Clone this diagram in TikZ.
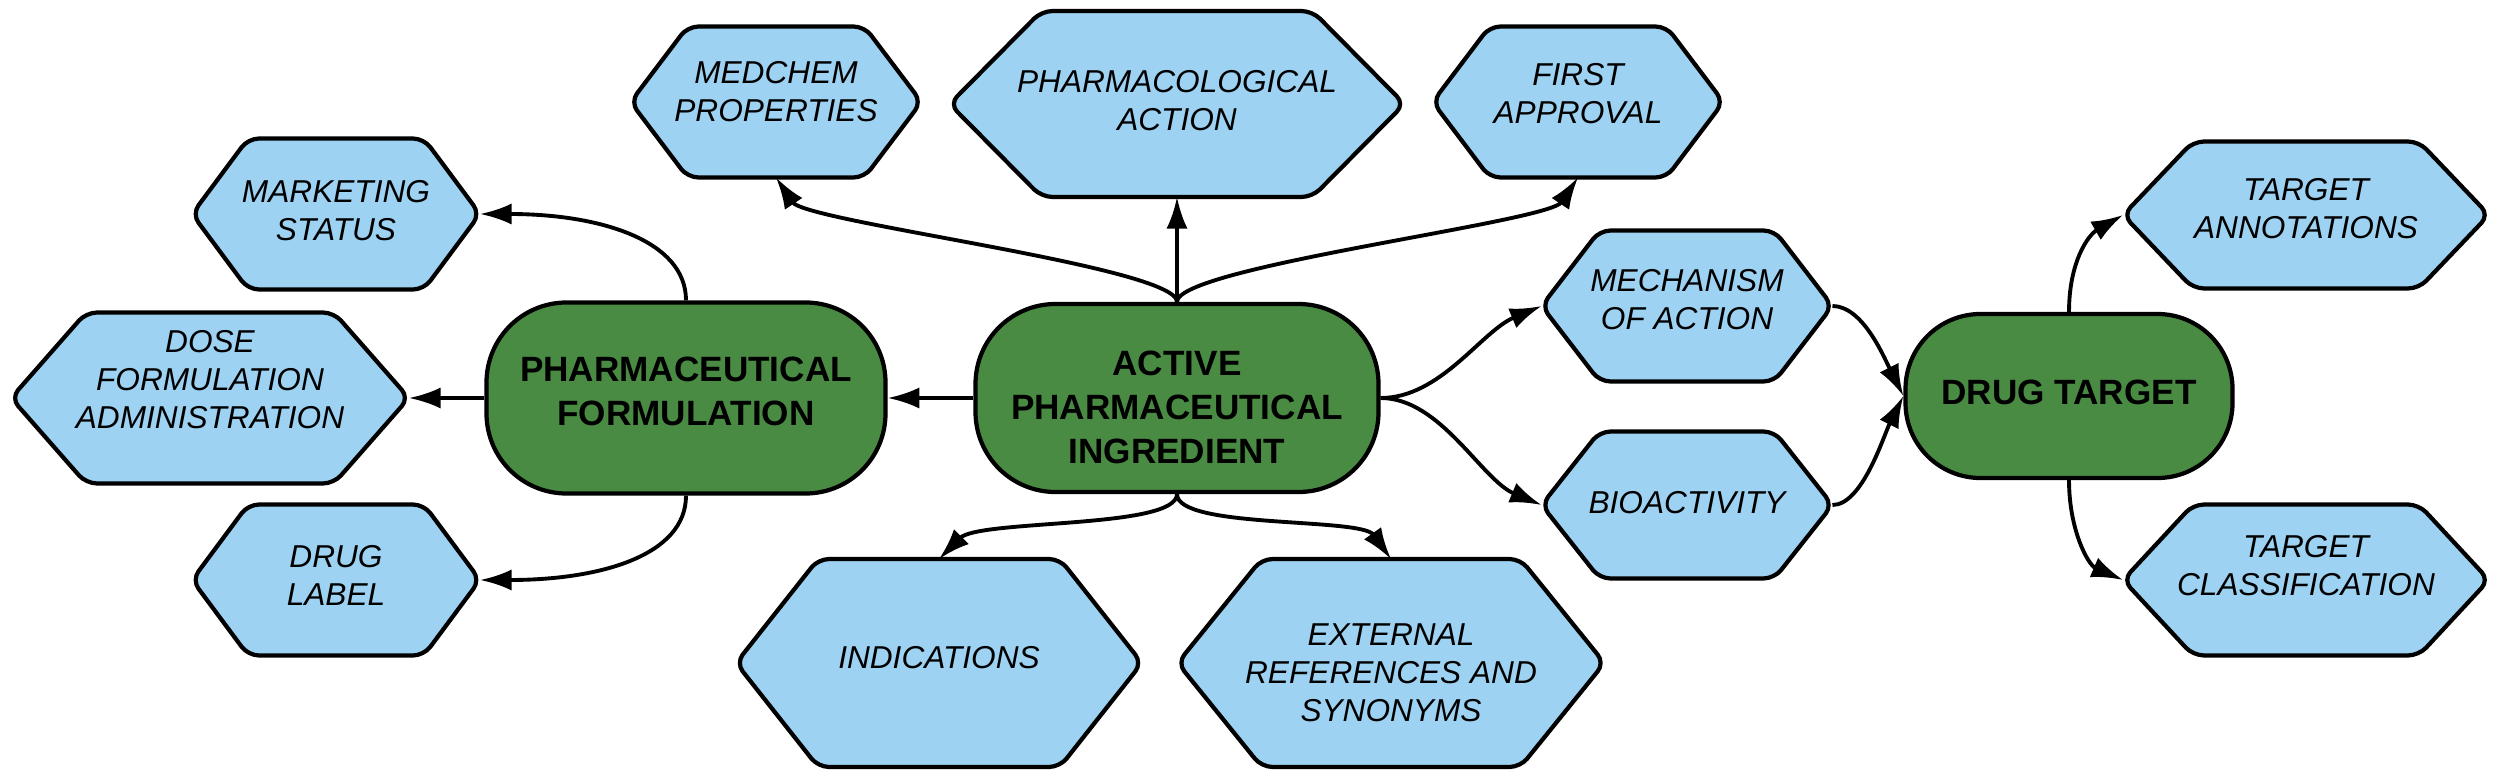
\documentclass[tikz,border=0pt]{standalone}
\usepackage{fontspec}
\setmainfont{Liberation Sans}
\usetikzlibrary{arrows.meta, backgrounds}

\definecolor{hexblue}{HTML}{9DD2F2}
\definecolor{hubgreen}{HTML}{4A8B43}

\begin{document}
\begin{tikzpicture}[>={Latex[length=9pt, width=6pt]}, line width=1.1pt,
	hub/.style={draw, fill=hubgreen, line width=1.2pt, rounded corners=0.8cm, inner sep=0pt},
	hubtext/.style={align=center, inner sep=0pt, font=\fontsize{10}{12.5}\selectfont\bfseries},
	leaf/.style={inner sep=0pt},
	leaftext/.style={align=center, inner sep=0pt, font=\fontsize{9}{10.8}\selectfont\itshape},
	hexa/.style={fill=hexblue, draw, line width=1.2pt, rounded corners=3pt}]
	
	% 1. Fix the canvas (same proportions as the figure)
	\useasboundingbox (0,0) rectangle (25,7.76);
	
	% 2. The three green hubs
	\node[hub, minimum width=4.03cm, minimum height=1.88cm,
	label={[hubtext, yshift=-0.09cm]center:{ACTIVE\\PHARMACEUTICAL\\INGREDIENT}}] (api) at (11.77,3.78) {};
	\node[hub, minimum width=3.99cm, minimum height=1.91cm,
	label={[hubtext, yshift=0.07cm]center:{PHARMACEUTICAL\\FORMULATION}}] (pf) at (6.86,3.78) {};
	\node[hub, minimum width=3.27cm, minimum height=1.64cm, rounded corners=0.75cm,
	label={[hubtext, yshift=0.04cm]center:{DRUG TARGET}}] (target) at (20.69,3.80) {};
	
	% 3. Leaves (text as label, the hexagons come later)
	\node[leaf, minimum width=2.87cm, minimum height=1.47cm,
	label={[leaftext, yshift=0.10cm]center:{MEDCHEM\\PROPERTIES}}] (medchem) at (7.76,6.74) {};
	\node[leaf, minimum width=4.51cm, minimum height=1.82cm,
	label={[leaftext, yshift=0.03cm]center:{PHARMACOLOGICAL\\ACTION}}] (pharmaco) at (11.77,6.72) {};
	\node[leaf, minimum width=2.87cm, minimum height=1.47cm,
	label={[leaftext, yshift=0.08cm]center:{FIRST\\APPROVAL}}] (approval) at (15.78,6.74) {};
	\node[leaf, minimum width=2.84cm, minimum height=1.47cm,
	label={[leaftext, yshift=0.03cm]center:{MARKETING\\STATUS}}] (marketing) at (3.36,5.62) {};
	\node[leaf, minimum width=3.94cm, minimum height=1.67cm,
	label={[leaftext, yshift=0.18cm]center:{DOSE\\FORMULATION\\ADMINISTRATION}}] (dose) at (2.10,3.78) {};
	\node[leaf, minimum width=2.84cm, minimum height=1.47cm,
	label={[leaftext, yshift=0.05cm]center:{DRUG\\LABEL}}] (label) at (3.36,1.96) {};
	\node[leaf, minimum width=2.87cm, minimum height=1.47cm,
	label={[leaftext, yshift=0.06cm]center:{MECHANISM\\OF ACTION}}] (mechanism) at (16.87,4.70) {};
	\node[leaf, minimum width=2.87cm, minimum height=1.43cm,
	label={[leaftext, yshift=0.02cm]center:{BIOACTIVITY}}] (bioact) at (16.87,2.71) {};
	\node[leaf, minimum width=3.62cm, minimum height=1.43cm,
	label={[leaftext, yshift=0.06cm]center:{TARGET\\ANNOTATIONS}}] (tannot) at (23.06,5.61) {};
	\node[leaf, minimum width=3.62cm, minimum height=1.47cm,
	label={[leaftext, yshift=0.14cm]center:{TARGET\\CLASSIFICATION}}] (tclass) at (23.06,1.96) {};
	\node[leaf, minimum width=4.02cm, minimum height=2.04cm,
	label={[leaftext, yshift=0.05cm]center:{INDICATIONS}}] (indic) at (9.39,1.13) {};
	\node[leaf, minimum width=4.23cm, minimum height=2.04cm,
	label={[leaftext, yshift=-0.10cm]center:{EXTERNAL\\REFERENCES AND\\SYNONYMS}}] (extref) at (13.91,1.13) {};
	
	% 4. Hexagon behind every leaf (name / slanted part)
	\begin{scope}[on background layer]
		\foreach \n/\s in {medchem/0.57cm, pharmaco/0.92cm, approval/0.57cm, marketing/0.56cm,
			dose/0.75cm, label/0.56cm, mechanism/0.58cm, bioact/0.58cm, tannot/0.70cm,
			tclass/0.70cm, indic/0.82cm, extref/0.84cm}
		{\draw[hexa] (\n.west) -- ([xshift=\s]\n.north west) -- ([xshift=-\s]\n.north east)
			-- (\n.east) -- ([xshift=-\s]\n.south east) -- ([xshift=\s]\n.south west) -- cycle;}
	\end{scope}
	
	% 5. Connectors out of the active ingredient
	\draw[->] (api.north) .. controls +(0,0.35) and +(0.3,-0.45) .. (medchem.south);
	\draw[->] (api.north) -- (pharmaco.south);
	\draw[->] (api.north) .. controls +(0,0.35) and +(-0.3,-0.45) .. (approval.south);
	\draw[->] (api.west) -- (pf.east);
	\draw[->] (api.south) .. controls +(0,-0.35) and +(0.4,0.4) .. (indic.north);
	\draw[->] (api.south) .. controls +(0,-0.35) and +(-0.3,0.42) .. (extref.north);
	\draw[->] (api.east) .. controls +(0.6,0) and +(-0.6,-0.25) .. (mechanism.west);
	\draw[->] (api.east) .. controls +(0.6,0) and +(-0.6,0.25) .. (bioact.west);
	
	% 6. Connectors out of the formulation
	\draw[->] (pf.north) .. controls +(0,0.6) and +(1.2,0) .. (marketing.east);
	\draw[->] (pf.west) -- (dose.east);
	\draw[->] (pf.south) .. controls +(0,-0.6) and +(1.2,0) .. (label.east);
	
	% 7. Into and out of the drug target
	\draw[->] (mechanism.east) .. controls +(0.3,0) and +(-0.2,0.4) .. (target.west);
	\draw[->] (bioact.east) .. controls +(0.3,0) and +(-0.2,-0.4) .. (target.west);
	\draw[->] (target.north) .. controls +(0,0.5) and +(-0.35,-0.2) .. (tannot.west);
	\draw[->] (target.south) .. controls +(0,-0.5) and +(-0.35,0.15) .. (tclass.west);
	
\end{tikzpicture}
\end{document}
